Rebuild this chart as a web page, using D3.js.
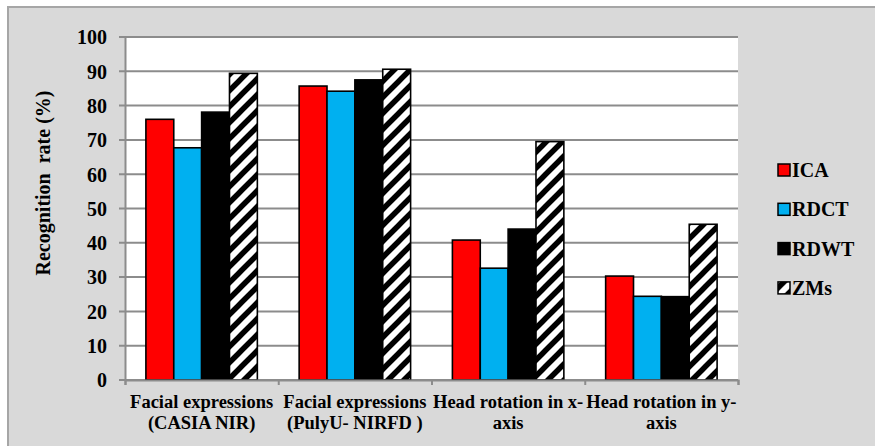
<!DOCTYPE html>
<html><head><meta charset="utf-8">
<script src="https://cdn.jsdelivr.net/npm/d3@7"></script>
<style>
html,body{margin:0;padding:0;background:#fff;}
</style></head>
<body>
<svg id="c" width="875" height="446"></svg>
<script>
const categories = [
  ["Facial expressions", "(CASIA NIR)"],
  ["Facial expressions", "(PulyU- NIRFD )"],
  ["Head rotation in x-", "axis"],
  ["Head rotation in y-", "axis"]
];
const seriesNames = ["ICA", "RDCT", "RDWT", "ZMs"];
const ICA  = [76.0, 85.7, 40.8, 30.3];
const RDCT = [67.7, 84.2, 32.6, 24.4];
const RDWT = [78.1, 87.5, 44.0, 24.3];
const ZMs  = [89.4, 90.6, 69.5, 45.4];
const yTicks = [0,10,20,30,40,50,60,70,80,90,100];
const seriesValues = [ICA, RDCT, RDWT, ZMs];
const fills = ["#ff0000", "#00b0f0", "#000000", "url(#hatch)"];
const FONT = '"Liberation Serif"';

const svg = d3.select("#c");
const defs = svg.append("defs");
const pat = defs.append("pattern").attr("id","hatch").attr("patternUnits","userSpaceOnUse")
  .attr("width",16).attr("height",16);
pat.append("rect").attr("width",16).attr("height",16).attr("fill","#fff");
pat.append("path").attr("d","M-4,20 L20,-4 M-4,4 L4,-4 M12,20 L20,12").attr("stroke","#000").attr("stroke-width",5.5);

// outer chart area
svg.append("rect").attr("x",8).attr("y",7).attr("width",880).attr("height",450)
  .attr("fill","#d9d9d9").attr("stroke","#a6a6a6").attr("stroke-width",2);

const L=125, R=738, T=37, B=380;
svg.append("rect").attr("x",L).attr("y",T).attr("width",R-L).attr("height",B-T).attr("fill","#fff");

const x = d3.scaleBand().domain(d3.range(categories.length)).range([L,R]).padding(0);
const xs = d3.scaleBand().domain(d3.range(seriesNames.length)).range([0,x.bandwidth()]).paddingInner(0).paddingOuter(0.75);
const y = d3.scaleLinear().domain([0,100]).range([B,T]);

// gridlines
svg.append("g").selectAll("line").data(yTicks).join("line")
  .attr("x1",L-6).attr("x2",R).attr("y1",d=>y(d)).attr("y2",d=>y(d))
  .attr("stroke","#8c8c8c").attr("stroke-width",2);

// y axis
const yAxis = d3.axisLeft(y).tickValues(yTicks).tickSize(0).tickPadding(18);
const gy = svg.append("g").attr("transform",`translate(${L},0)`).call(yAxis);
gy.attr("font-family",null).attr("font-size",null);
gy.select(".domain").attr("stroke","#8c8c8c").attr("stroke-width",2);
gy.selectAll("text").style("font-size","20px").style("font-family",FONT).style("font-weight","bold").attr("fill","#000").attr("dy","0.34em");

// bars
seriesValues.forEach((vals,si)=>{
  svg.append("g").selectAll("rect").data(vals).join("rect")
    .attr("x",(d,i)=>x(i)+xs(si)).attr("width",xs.bandwidth())
    .attr("y",d=>y(d)).attr("height",d=>B-y(d))
    .attr("fill",fills[si]).attr("stroke","#000").attr("stroke-width",1.6);
});

// x axis
const xAxis = d3.axisBottom(d3.scaleLinear().domain([0,4]).range([L,R])).tickValues([0,1,2,3,4]).tickSize(5).tickFormat("");
const gx = svg.append("g").attr("transform",`translate(0,${B})`).call(xAxis);
gx.select(".domain").attr("stroke","#8c8c8c").attr("stroke-width",2);
gx.selectAll(".tick line").attr("stroke","#8c8c8c").attr("stroke-width",2);

// category labels
const cl = svg.append("g").selectAll("text").data(categories).join("text")
  .attr("text-anchor","middle").style("font-size","18.5px").style("font-family",FONT).style("font-weight","bold")
  .attr("transform",(d,i)=>`translate(${x(i)+x.bandwidth()/2},0)`);
cl.append("tspan").attr("x",0).attr("y",408).text(d=>d[0]);
cl.append("tspan").attr("x",0).attr("y",429).text(d=>d[1]);

// y title
svg.append("text").attr("transform","translate(50,183) rotate(-90)").attr("text-anchor","middle")
  .style("font-size","20px").style("font-family",FONT).style("font-weight","bold").style("white-space","pre")
  .text("Recognition  rate (%)");

// legend
const lg = svg.append("g").selectAll("g").data(seriesNames).join("g")
  .attr("transform",(d,i)=>`translate(778,${170+i*39.3})`);
lg.append("rect").attr("x",0).attr("y",-6).attr("width",12).attr("height",12)
  .attr("fill",(d,i)=>fills[i]).attr("stroke","#000").attr("stroke-width",1.5);
lg.append("text").attr("x",14).attr("y",7).style("font-size","20px").style("font-family",FONT).style("font-weight","bold").text(d=>d);
</script>
</body></html>
